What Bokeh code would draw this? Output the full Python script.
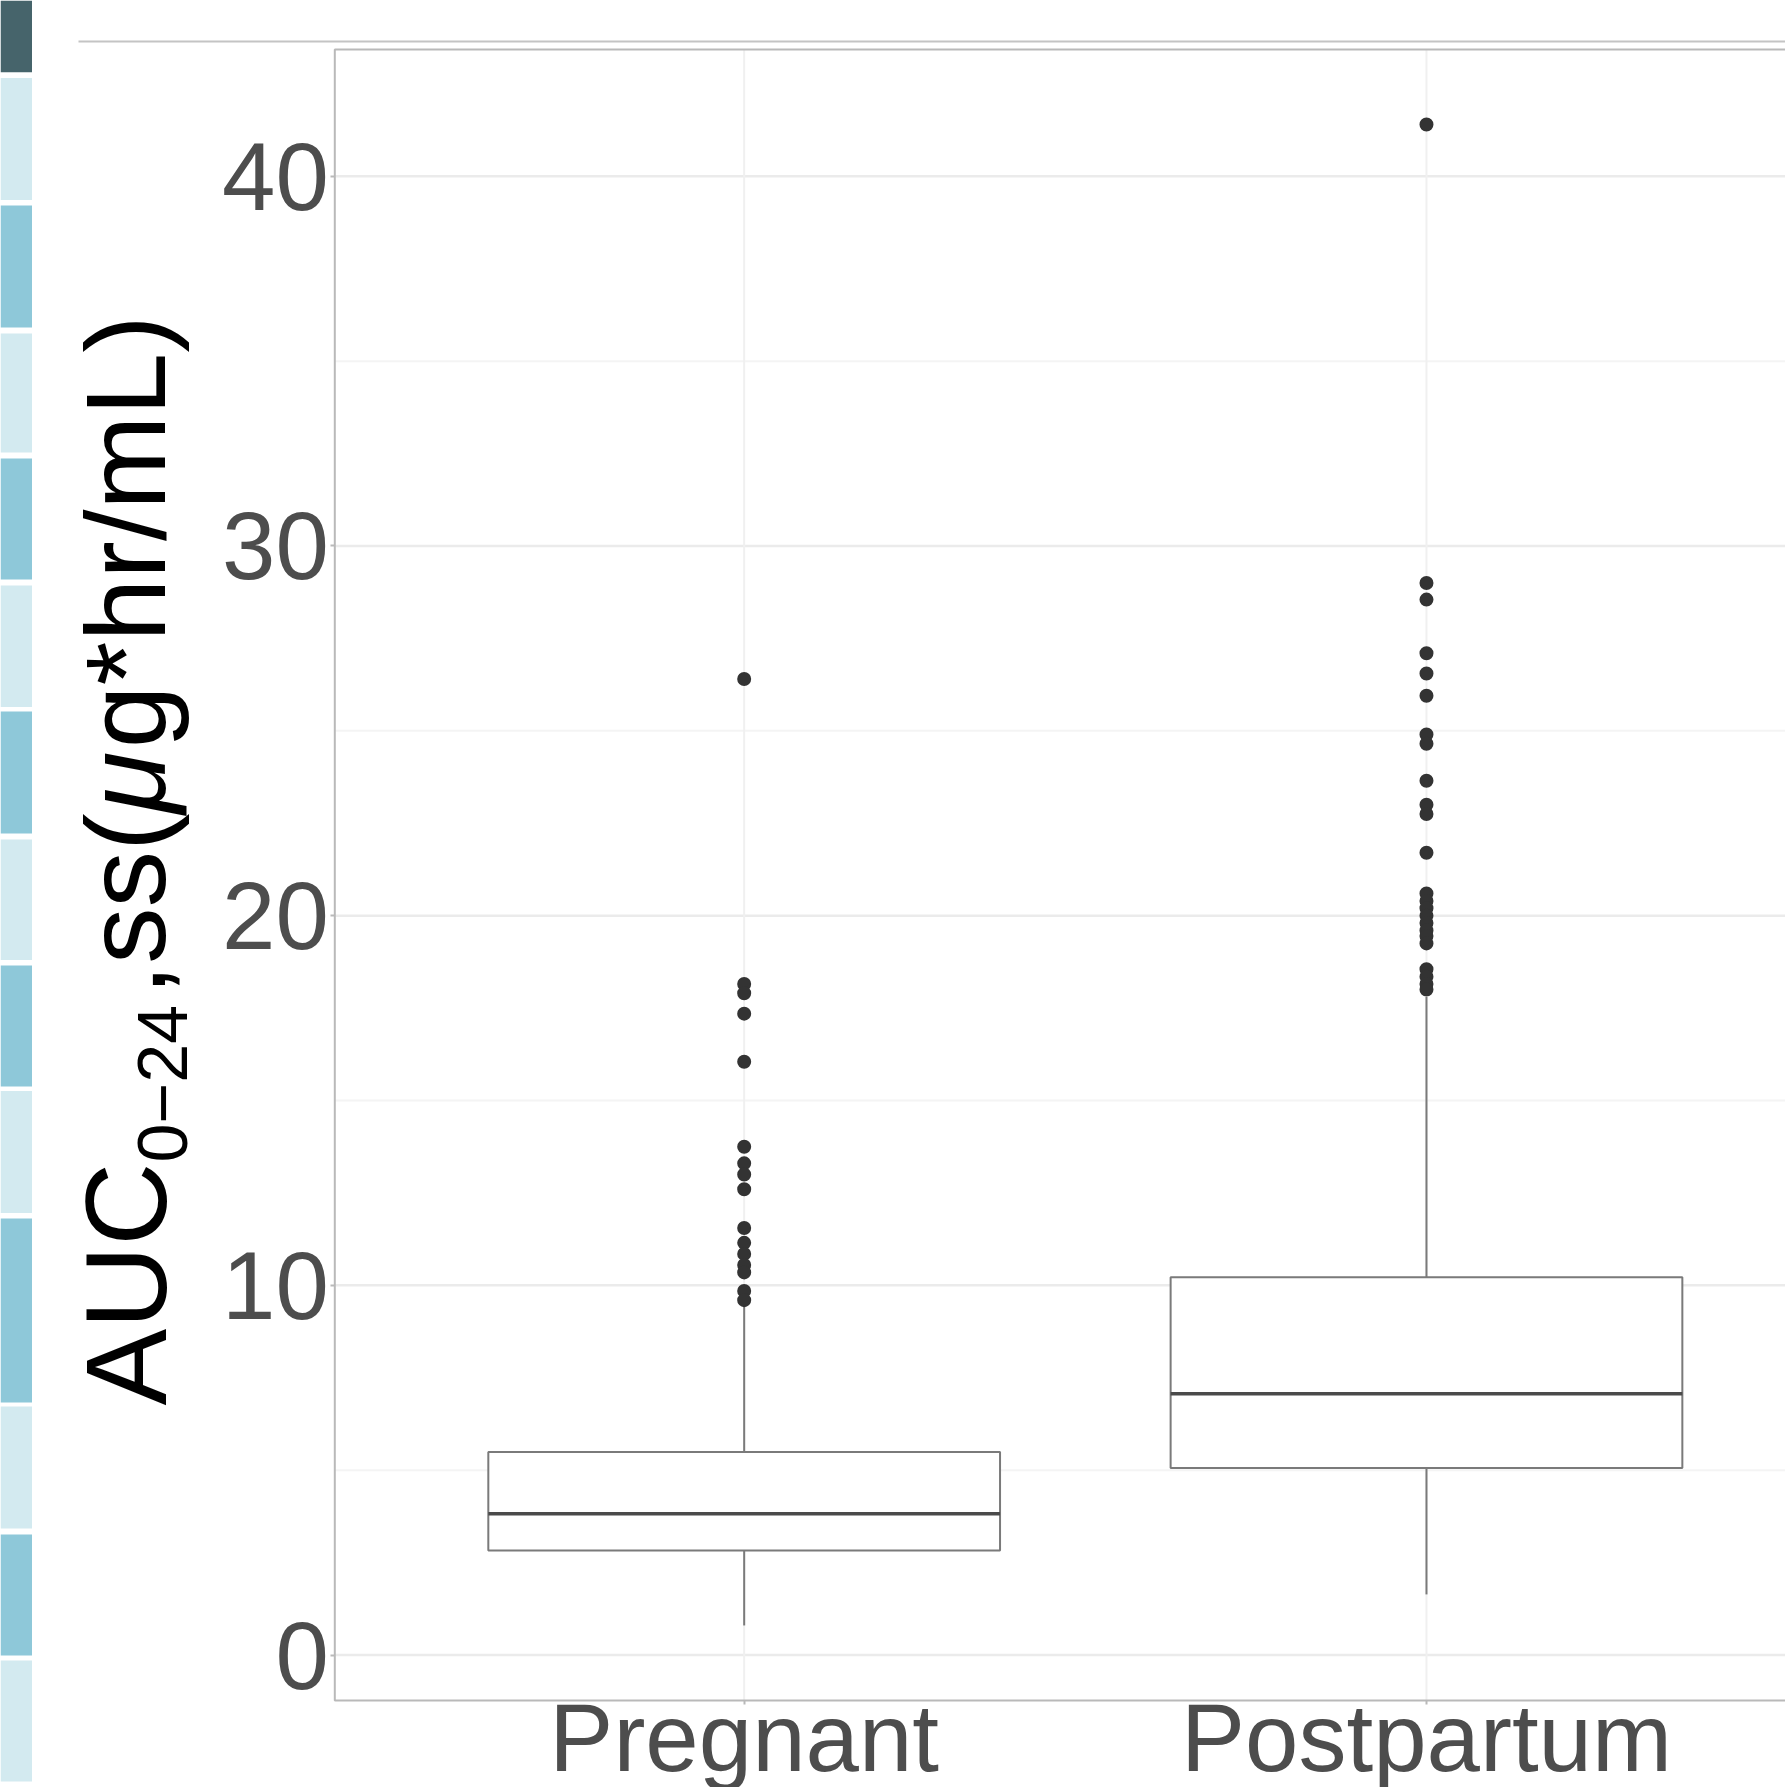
import numpy as np
from bokeh.plotting import figure
from bokeh.models import Range1d, FixedTicker, Label, LinearAxis
from bokeh.layouts import row
from bokeh.embed import file_html
from bokeh.resources import INLINE

# ---------------- data ----------------
categories = ["Pregnant", "Postpartum"]
q1 = [2.83, 5.06]
median = [3.82, 7.07]
q3 = [5.49, 10.22]
whisker_low = [0.80, 1.64]
whisker_high = [9.45, 17.8]
outliers_pregnant = [26.4, 18.15, 17.9, 17.35, 16.05, 13.75, 13.3, 13.0, 12.6,
                     11.55, 11.15, 10.85, 10.55, 10.35, 9.85, 9.6]
outliers_postpartum = [41.4, 29.0, 28.55, 27.1, 26.55, 25.95, 24.9, 24.65, 23.65,
                       23.0, 22.75, 21.7, 20.6, 20.4, 20.2, 20.0, 19.8, 19.6, 19.45,
                       19.25, 18.55, 18.35, 18.15, 18.0]
y_ticks = [0, 10, 20, 30, 40]
y_minor = [5, 15, 25, 35]

# ---------------- styling ----------------
FONT = "Liberation Sans"
BORDER = "#b9b9b9"
TICK_COLOR = "#4d4d4d"
BOX_LINE = "#7a7a7a"
MED_LINE = "#4a4a4a"
PT_COLOR = "#333333"

# page geometry (pixels)
H = 1787
SIDE_W = 32
MAIN_W = 1753
PANEL_LEFT = 334.3
PANEL_TOP = 49.0
PANEL_BOTTOM = 1700.0
PX_PER_X = 682.3

n = len(categories)
pos = [i + 1 for i in range(n)]
half = 0.75 / 2

all_vals = whisker_low + whisker_high + q1 + q3 + outliers_pregnant + outliers_postpartum
lo, hi = min(all_vals), max(all_vals)
pad = 0.05 * (hi - lo)
py0, py1 = lo - pad, hi + pad          # ggplot-style expanded panel limits
px0, px1 = 0.4, n + 0.6

PX_PER_Y = (PANEL_BOTTOM - PANEL_TOP) / (py1 - py0)
x_start = px0 - (PANEL_LEFT - SIDE_W) / PX_PER_X
x_end = x_start + MAIN_W / PX_PER_X
y_end = py1 + PANEL_TOP / PX_PER_Y
y_start = py0 - (H - PANEL_BOTTOM) / PX_PER_Y


def y_at(page_y):
    return py0 + (PANEL_BOTTOM - page_y) / PX_PER_Y


def x_at(page_x):
    return x_start + (page_x - SIDE_W) / PX_PER_X


p = figure(width=MAIN_W, height=H, x_range=Range1d(x_start, x_end),
           y_range=Range1d(y_start, y_end), output_backend="svg", toolbar_location=None,
           min_border=0, x_axis_location=None, y_axis_location=None)
p.outline_line_color = None
p.background_fill_color = "white"
p.grid.visible = False

# grid lines inside panel
p.segment(x0=px0, x1=px1, y0=y_minor, y1=y_minor, line_color="#f4f4f4", line_width=2)
p.segment(x0=px0, x1=px1, y0=y_ticks, y1=y_ticks, line_color="#ebebeb", line_width=2.5)
p.segment(x0=pos, x1=pos, y0=py0, y1=py1, line_color="#f0f0f0", line_width=2)

# axes
ya = LinearAxis(fixed_location=px0, ticker=FixedTicker(ticks=y_ticks),
                axis_line_color=None, minor_tick_line_color=None,
                major_tick_in=0, major_tick_out=4, major_tick_line_color=BORDER,
                major_tick_line_width=2, major_label_text_font=FONT,
                major_label_text_font_size="96px", major_label_text_color=TICK_COLOR,
                major_label_standoff=2)
p.add_layout(ya, "left")
xa = LinearAxis(fixed_location=py0, ticker=FixedTicker(ticks=pos),
                major_label_overrides={k: c for k, c in zip(pos, categories)},
                axis_line_color=None, minor_tick_line_color=None,
                major_tick_in=0, major_tick_out=4, major_tick_line_color=BORDER,
                major_tick_line_width=2, major_label_text_font=FONT,
                major_label_text_font_size="96px", major_label_text_color=TICK_COLOR,
                major_label_standoff=-21)
p.add_layout(xa, "below")

# whiskers
p.segment(x0=pos, x1=pos, y0=q3, y1=whisker_high, line_color=BOX_LINE, line_width=2)
p.segment(x0=pos, x1=pos, y0=q1, y1=whisker_low, line_color=BOX_LINE, line_width=2)
# boxes
p.vbar(x=pos, width=0.75, top=q3, bottom=q1, fill_color="white",
       line_color=BOX_LINE, line_width=2)
# medians
p.segment(x0=[x - half for x in pos], x1=[x + half for x in pos], y0=median, y1=median,
          line_color=MED_LINE, line_width=3.5)
# outliers
ox = [pos[0]] * len(outliers_pregnant) + [pos[1]] * len(outliers_postpartum)
oy = outliers_pregnant + outliers_postpartum
p.scatter(x=ox, y=oy, size=14, fill_color=PT_COLOR, line_color=None)

# panel border
p.quad(left=px0, right=px1, bottom=py0, top=py1, fill_color=None,
       line_color=BORDER, line_width=2)

# header separator rule
p.segment(x0=x_at(78), x1=x_end, y0=y_at(41), y1=y_at(41), line_color="#c4c4c4", line_width=2)

# y axis title with subscript (rotated labels: anchor shifted by 0.373 em)
BIG, SUB, TAIL = 115, 70, 113
K = 0.373


def title_label(text, baseline_x, start_y, size, style="normal"):
    return Label(x=x_at(baseline_x - K * size), y=y_at(start_y), text=text, angle=np.pi / 2,
                 text_font=FONT, text_font_size=f"{size}px", text_color="black",
                 text_font_style=style, text_align="left", text_baseline="alphabetic")


p.add_layout(title_label("AUC", 168, 1405, BIG))
p.add_layout(title_label("0\u221224", 188, 1162, SUB))
tail_start = 995
p.add_layout(title_label(",ss(", 168, tail_start, TAIL))
mu_start = tail_start - 1.611 * TAIL
p.add_layout(title_label("\u03bc", 168, mu_start, TAIL, "italic"))
p.add_layout(title_label("g*hr/mL)", 168, mu_start - 0.576 * TAIL, TAIL))

# ---------------- side navigation strip ----------------
stripe_top = [0, 77.5, 205, 333, 458, 585, 711, 839, 965, 1090.6, 1218, 1406, 1534, 1660]
stripe_bot = [71.8, 199.4, 327, 452, 579, 706.5, 833, 959.5, 1086, 1212.5, 1402, 1528, 1655, 1781]
stripe_col = ["#46646b"] + ["#d3eaf0", "#8ec8d9"] * 6 + ["#d3eaf0"]

side = figure(width=SIDE_W, height=H, x_range=Range1d(0, SIDE_W), y_range=Range1d(H, 0),
              output_backend="svg", toolbar_location=None, min_border=0,
              x_axis_location=None, y_axis_location=None)
side.grid.visible = False
side.outline_line_color = None
side.quad(left=0, right=SIDE_W, top=stripe_top, bottom=stripe_bot,
          fill_color=stripe_col, line_color=None)

layout = row(side, p)
open("out.html", "w").write(file_html(layout, INLINE))
